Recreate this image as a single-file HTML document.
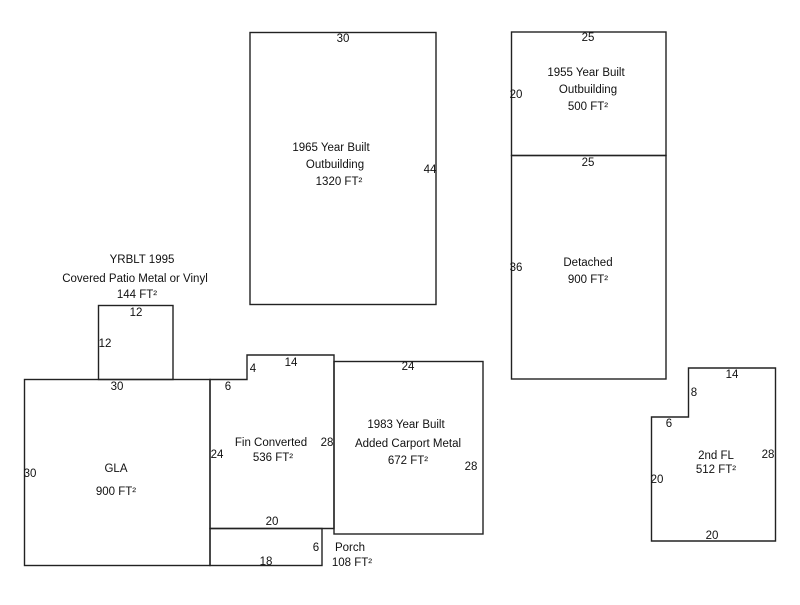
<!DOCTYPE html>
<html><head><style>
body{margin:0;background:#fff}
svg text{font-family:"Liberation Sans",Arial,sans-serif;font-size:11.5px;fill:#111}
</style></head><body>
<svg width="800" height="600" viewBox="0 0 800 600">
<g fill="none" stroke="#222" stroke-width="1.4">
<rect x="250" y="32.5" width="186" height="272"/>
<rect x="511.5" y="32" width="154.5" height="123.5"/>
<rect x="511.5" y="155.5" width="154.5" height="223.5"/>
<rect x="98.5" y="305.5" width="74.5" height="74"/>
<rect x="24.5" y="379.5" width="185.5" height="186"/>
<polygon points="210,379.5 247,379.5 247,355 334,355 334,528.5 210,528.5"/>
<rect x="210" y="528.5" width="112" height="37"/>
<rect x="334" y="361.5" width="149" height="172.5"/>
<polygon points="651.5,417 688.5,417 688.5,368 775.5,368 775.5,541 651.5,541"/>
</g>
<g text-anchor="middle">
<text x="343" y="42">30</text>
<text x="331" y="151">1965 Year Built</text>
<text x="335" y="168">Outbuilding</text>
<text x="339" y="185">1320 FT²</text>
<text x="430" y="173">44</text>
<text x="588" y="41">25</text>
<text x="586" y="76">1955 Year Built</text>
<text x="588" y="93">Outbuilding</text>
<text x="588" y="110">500 FT²</text>
<text x="516" y="98">20</text>
<text x="588" y="166">25</text>
<text x="588" y="266">Detached</text>
<text x="588" y="283">900 FT²</text>
<text x="516" y="271">36</text>
<text x="142" y="263">YRBLT 1995</text>
<text x="135" y="282">Covered Patio Metal or Vinyl</text>
<text x="137" y="298">144 FT²</text>
<text x="136" y="316">12</text>
<text x="105" y="347">12</text>
<text x="117" y="390">30</text>
<text x="30" y="477">30</text>
<text x="116" y="472">GLA</text>
<text x="116" y="495">900 FT²</text>
<text x="228" y="390">6</text>
<text x="253" y="372">4</text>
<text x="291" y="366">14</text>
<text x="217" y="458">24</text>
<text x="271" y="446">Fin Converted</text>
<text x="273" y="461">536 FT²</text>
<text x="327" y="446">28</text>
<text x="272" y="525">20</text>
<text x="266" y="565">18</text>
<text x="316" y="551">6</text>
<text x="350" y="551">Porch</text>
<text x="352" y="566">108 FT²</text>
<text x="408" y="370">24</text>
<text x="406" y="428">1983 Year Built</text>
<text x="408" y="447">Added Carport Metal</text>
<text x="408" y="464">672 FT²</text>
<text x="471" y="470">28</text>
<text x="732" y="378">14</text>
<text x="694" y="396">8</text>
<text x="669" y="427">6</text>
<text x="716" y="459">2nd FL</text>
<text x="716" y="473">512 FT²</text>
<text x="768" y="458">28</text>
<text x="657" y="483">20</text>
<text x="712" y="539">20</text>
</g>
</svg>
</body></html>
